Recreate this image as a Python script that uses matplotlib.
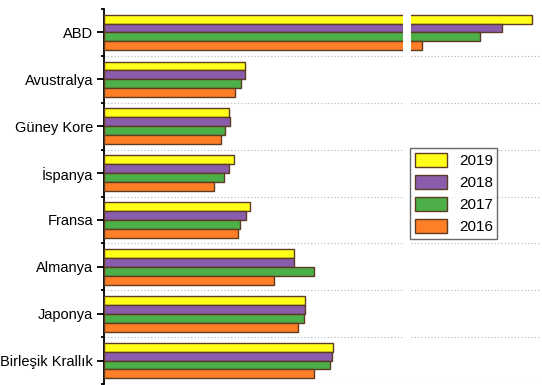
import matplotlib
matplotlib.use("Agg")
import matplotlib.pyplot as plt
import numpy as np

countries = ["ABD", "Avustralya", "Güney Kore", "İspanya", "Fransa",
             "Almanya", "Japonya", "Birleşik Krallık"]
years = ["2019", "2018", "2017", "2016"]
v2019 = [1121, 141, 125, 130, 146, 190, 201, 229]
v2018 = [1091, 141, 126, 125, 142, 190, 201, 228]
v2017 = [1069, 137, 121, 120, 136, 210, 200, 226]
v2016 = [1011, 131, 117, 110, 134, 170, 194, 210]
series = [v2019, v2018, v2017, v2016]
colors = ["#ffff1a", "#8a5cac", "#4caf47", "#ff7f27"]
edge = "#5c3b22"

plt.rcParams["font.family"] = ["Liberation Sans", "DejaVu Sans"]

fig = plt.figure(figsize=(5.42, 3.85), dpi=100)
W, H = 542.0, 385.0
top, bottom = 9, 384
ax = fig.add_axes([103.5 / W, 1 - bottom / H, (403 - 103.5) / W, (bottom - top) / H])
ax2 = fig.add_axes([411 / W, 1 - bottom / H, (540 - 411) / W, (bottom - top) / H])

y = np.arange(len(countries))
h = 0.19
offs = [-1.5 * h, -0.5 * h, 0.5 * h, 1.5 * h]

for a in (ax, ax2):
    for vals, c, off, yr in zip(series, colors, offs, years):
        a.barh(y + off, vals, height=h, color=c, edgecolor=edge, linewidth=1.0,
               label=yr, zorder=3)
    for b in np.arange(0.5, len(countries), 1.0):
        a.axhline(b, color="#b5b5b5", linestyle=(0, (1, 2)), linewidth=0.8, zorder=1)
    a.set_ylim(len(countries) - 0.5, -0.5)
    for s in ["top", "right", "bottom"]:
        a.spines[s].set_visible(False)
    a.set_xticks([])

ax.set_xlim(0, 299.5)
ax2.set_xlim(1000, 1129)

ax.spines["left"].set_linewidth(1.3)
ax.set_yticks(y)
ax.set_yticklabels(countries, fontsize=10.5)
ax.set_yticks(np.arange(-0.5, len(countries), 1.0), minor=True)
ax.tick_params(axis="y", which="major", length=5, width=1.3, pad=2.5, direction="out")
ax.tick_params(axis="y", which="minor", length=2.5, width=1.3, direction="out")

ax2.spines["left"].set_visible(False)
ax2.set_yticks([])

leg = ax2.legend(loc="upper left", bbox_to_anchor=(410 / W, 1 - 148 / H),
                 bbox_transform=fig.transFigure, fontsize=11, frameon=True,
                 fancybox=False, edgecolor="#444444", handlelength=2.15,
                 handleheight=1.05, labelspacing=0.45, borderpad=0.3,
                 handletextpad=0.75, borderaxespad=0)
leg.get_frame().set_linewidth(1.0)

fig.savefig("out.png", dpi=100)
